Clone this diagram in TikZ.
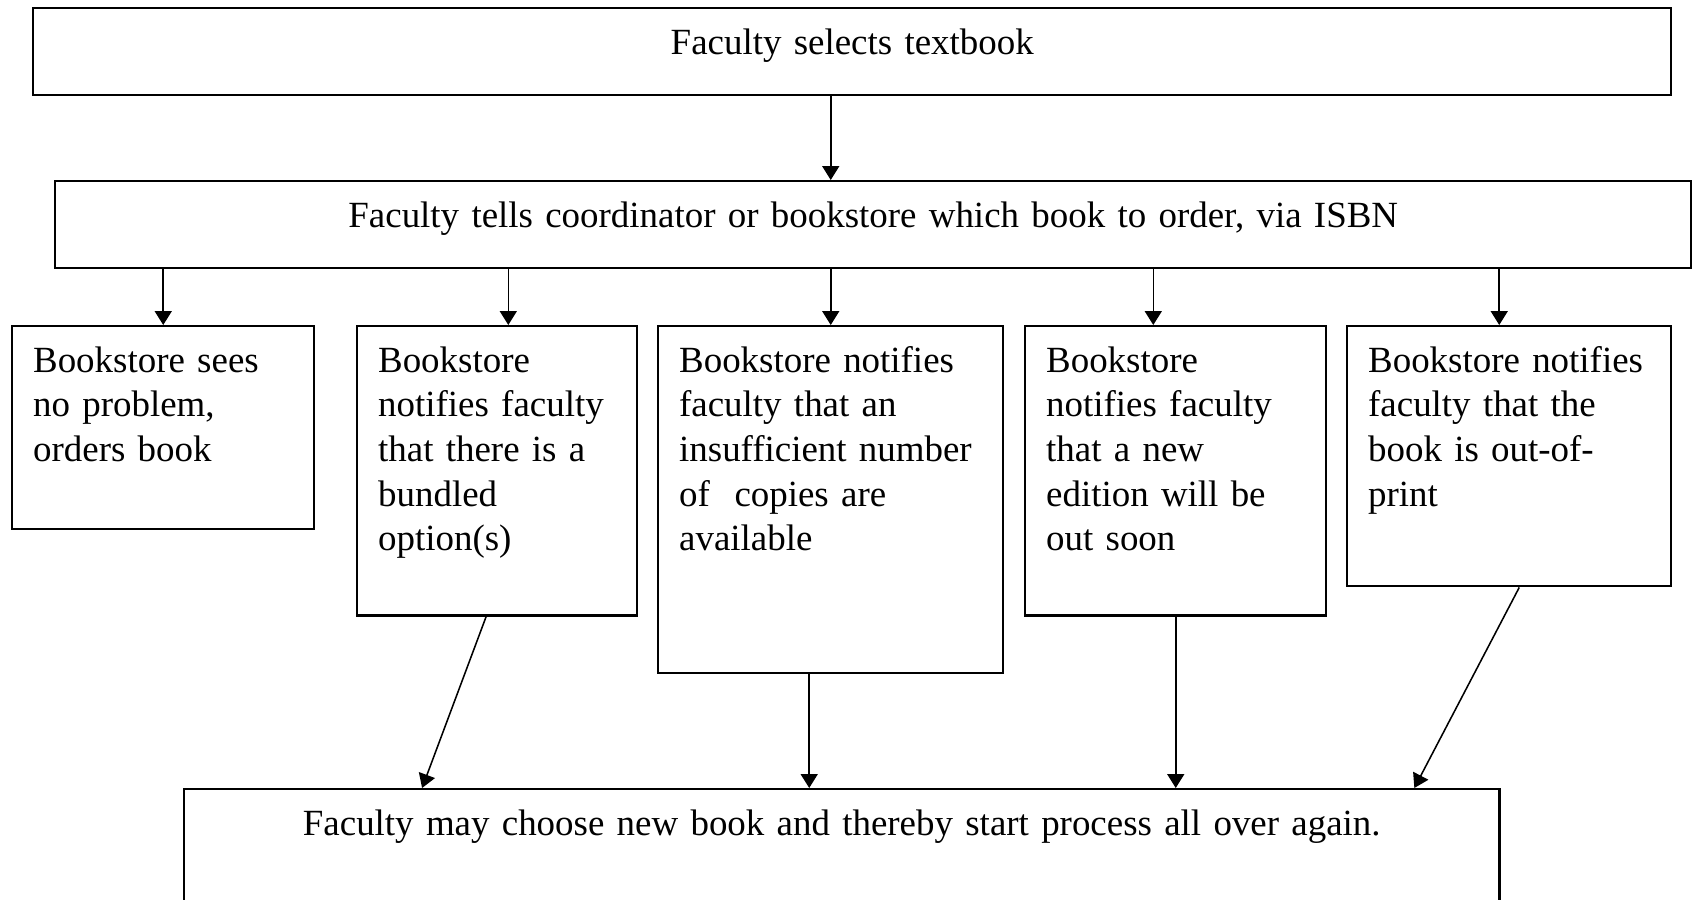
\documentclass[tikz,border=0pt]{standalone}
\usepackage{fontspec}
\setmainfont{Liberation Serif}
\usetikzlibrary{positioning,arrows.meta}

\begin{document}
\begin{tikzpicture}[
    x=0.325pt, y=-0.325pt,
    every node/.style={font=\fontsize{12}{14.5}\selectfont},
    stepbox/.style={draw, line width=0.8pt, anchor=north west, inner xsep=6.8pt, inner ysep=0pt, text height=14.95pt, align=left},
    widebox/.style={stepbox, align=center, text depth=13.33pt},
    arrow/.style={-{Triangle[length=4.5pt, width=5.5pt]}, line width=0.5pt},
  ]
  \useasboundingbox (0,0) rectangle (1692,900);

  % top of the chain
  \node[widebox, text width=518.75pt] (select) at (32,7) {Faculty selects textbook};
  \node[widebox, text width=518.1pt] (tells) at (54,180) {Faculty tells coordinator or bookstore which book to order, via ISBN};

  % bookstore answers
  \node[stepbox, text width=84.55pt, text depth=51pt] (noprob) at (11,325) {Bookstore sees\\ no problem,\\ orders book};
  \node[stepbox, text width=77.4pt, text depth=79pt] (bundle) at (356,325) {Bookstore\\ notifies faculty\\ that there is a\\ bundled\\ option(s)};
  \node[stepbox, text width=98.53pt, text depth=97.8pt] (copies) at (657,325) {Bookstore notifies\\ faculty that an\\ insufficient number\\ of\ \ copies are\\ available};
  \node[stepbox, text width=84.23pt, text depth=79pt] (edition) at (1024,325) {Bookstore\\ notifies faculty\\ that a new\\ edition will be\\ out soon};
  \node[stepbox, text width=91.7pt, text depth=69.55pt] (oop) at (1346,325) {Bookstore notifies\\ faculty that the\\ book is out-of-\\ print};

  \node[widebox, text width=413.78pt, text depth=27.3pt] (again) at (183,788) {Faculty may choose new book and thereby start process all over again.};

  \draw[arrow] (copies.north |- select.south) -- (copies.north |- tells.north);

  \draw[arrow] (noprob.north |- tells.south) -- (noprob.north);
  \draw[arrow] ([xshift=3.6pt]bundle.north |- tells.south) -- ([xshift=3.6pt]bundle.north);
  \draw[arrow] (copies.north |- tells.south) -- (copies.north);
  \draw[arrow] ([xshift=-7.3pt]edition.north |- tells.south) -- ([xshift=-7.3pt]edition.north);
  \draw[arrow] ([xshift=-3.25pt]oop.north |- tells.south) -- ([xshift=-3.25pt]oop.north);

  \draw[arrow] ([xshift=-3.6pt]bundle.south) -- ([xshift=77.7pt]again.north west);
  \draw[arrow] ([xshift=-7pt]copies.south) -- ([xshift=-7pt]copies.south |- again.north);
  \draw[arrow] (edition.south) -- (edition.south |- again.north);
  \draw[arrow] ([xshift=3.25pt]oop.south) -- ([xshift=-28pt]again.north east);
\end{tikzpicture}
\end{document}
